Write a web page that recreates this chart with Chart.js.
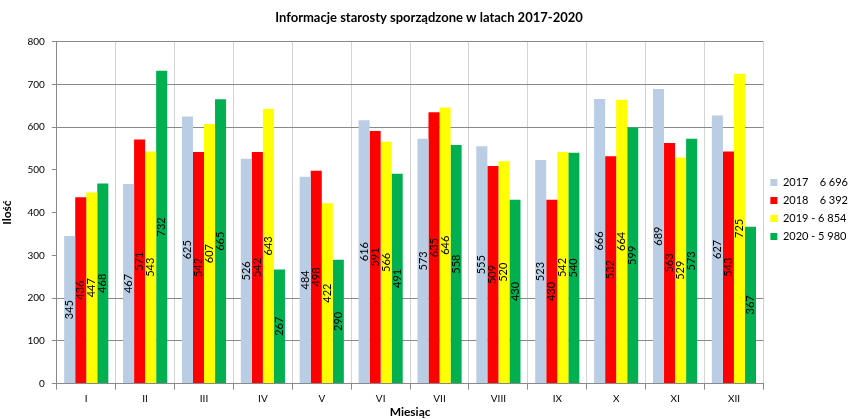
<!DOCTYPE html>
<html>
<head>
<meta charset="utf-8">
<script src="https://cdn.jsdelivr.net/npm/chart.js@4"></script>
<style>
    body { margin: 0; background: #fff; }
    #wrap { width: 858px; height: 419px; }
</style>
</head>
<body>
<div id="wrap"><canvas id="monthChart" width="858" height="419"></canvas></div>
<script>
const months = ['I', 'II', 'III', 'IV', 'V', 'VI', 'VII', 'VIII', 'IX', 'X', 'XI', 'XII'];
const values2017 = [345, 467, 625, 526, 484, 616, 573, 555, 523, 666, 689, 627];
const values2018 = [436, 571, 542, 542, 498, 591, 635, 509, 430, 532, 563, 543];
const values2019 = [447, 543, 607, 643, 422, 566, 646, 520, 542, 664, 529, 725];
const values2020 = [468, 732, 665, 267, 290, 491, 558, 430, 540, 599, 573, 367];
const seriesLabels = ['2017    6 696', '2018    6 392', '2019 - 6 854', '2020 - 5 980'];
const yTicks = [0, 100, 200, 300, 400, 500, 600, 700, 800];

const fontFamily = 'Lato, "Open Sans", sans-serif';

// value labels drawn vertically in the middle of each bar
const barLabels = {
    id: 'barLabels',
    afterDatasetsDraw(chart) {
        const ctx = chart.ctx;
        ctx.save();
        ctx.font = '11px ' + fontFamily;
        ctx.fillStyle = '#000';
        ctx.textAlign = 'center';
        ctx.textBaseline = 'middle';
        chart.data.datasets.forEach((ds, i) => {
            chart.getDatasetMeta(i).data.forEach((bar, j) => {
                const cy = (bar.y + bar.base) / 2;
                ctx.save();
                ctx.translate(bar.x, cy);
                ctx.rotate(-Math.PI / 2);
                ctx.fillText(String(ds.data[j]), 0, 0);
                ctx.restore();
            });
        });
        ctx.restore();
    }
};

const ctx = document.getElementById('monthChart').getContext('2d');
new Chart(ctx, {
    type: 'bar',
    data: {
        labels: months,
        datasets: [{
            label: seriesLabels[0],
            data: values2017,
            backgroundColor: '#b9cde5'
        }, {
            label: seriesLabels[1],
            data: values2018,
            backgroundColor: '#ff0000'
        }, {
            label: seriesLabels[2],
            data: values2019,
            backgroundColor: '#ffff00'
        }, {
            label: seriesLabels[3],
            data: values2020,
            backgroundColor: '#00b050'
        }]
    },
    plugins: [barLabels],
    options: {
        responsive: false,
        animation: false,
        layout: { padding: { left: 0, right: 0, top: 0, bottom: 0 } },
        datasets: {
            bar: { barPercentage: 1.0, categoryPercentage: 0.75 }
        },
        plugins: {
            title: {
                display: true,
                text: 'Informacje starosty sporządzone w latach 2017-2020',
                font: { size: 13, weight: 'bold', family: fontFamily },
                color: '#000',
                padding: { top: 10, bottom: 16 }
            },
            legend: {
                position: 'right',
                labels: {
                    boxWidth: 7,
                    boxHeight: 7,
                    padding: 7,
                    color: '#000',
                    font: { size: 11, family: fontFamily }
                }
            },
            tooltip: { enabled: false }
        },
        scales: {
            x: {
                grid: {
                    offset: true,
                    color: '#d4d4d4',
                    tickColor: '#898989',
                    tickLength: 6
                },
                border: { color: '#898989' },
                ticks: { color: '#000', font: { size: 10, family: fontFamily }, padding: 3 },
                title: {
                    display: true,
                    text: 'Miesiąc',
                    color: '#000',
                    font: { size: 12, weight: 'bold', family: fontFamily },
                    padding: { top: -3, bottom: 0 }
                }
            },
            y: {
                min: 0,
                max: 800,
                afterBuildTicks: axis => { axis.ticks = yTicks.map(v => ({ value: v })); },
                grid: {
                    color: c => (c.tick && c.tick.value >= 300 && c.tick.value <= 500) ? 'rgba(0,0,0,0)' : '#898989',
                    tickColor: '#898989',
                    tickLength: 5
                },
                border: { color: '#898989' },
                ticks: { color: '#000', font: { size: 10, family: fontFamily }, padding: 7 },
                title: {
                    display: true,
                    text: 'Ilość',
                    color: '#000',
                    font: { size: 12, weight: 'bold', family: fontFamily },
                    padding: { top: 0, bottom: 6 }
                }
            }
        }
    }
});
</script>
</body>
</html>
